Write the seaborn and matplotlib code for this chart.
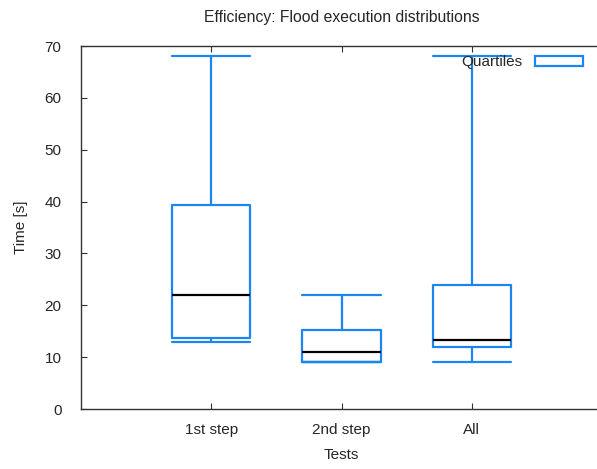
import numpy as np
import pandas as pd
import matplotlib
matplotlib.use("Agg")
import matplotlib.pyplot as plt
import seaborn as sns
from matplotlib.patches import Patch

# five-number summaries: min, Q1, median, Q3, max
tests = ["1st step", "2nd step", "All"]
step1_times = [13.0, 13.6, 22.0, 39.3, 68.0]
step2_times = [9.0, 9.0, 11.0, 15.2, 22.0]
all_times = [9.0, 11.9, 13.4, 23.9, 68.0]

BLUE = "#1c86f0"
TEXT = "#262626"

df = pd.DataFrame({
    "Tests": np.repeat(tests, 5),
    "Time": step1_times + step2_times + all_times,
})

sns.set_theme(style="white")
plt.rcParams["font.family"] = ["Liberation Sans", "DejaVu Sans"]

fig = plt.figure(figsize=(5.97, 4.69), dpi=100)
ax = fig.add_axes([81 / 597, 60 / 469, 521 / 597, 363 / 469])

sns.boxplot(data=df, x="Tests", y="Time", order=tests, whis=np.inf,
            width=0.6, fill=False, color=BLUE, linewidth=1.6,
            medianprops=dict(color="black", linewidth=1.6), ax=ax)

# gnuplot style: caps as wide as the boxes
for line in ax.lines:
    xd = np.asarray(line.get_xdata(), dtype=float)
    yd = np.asarray(line.get_ydata(), dtype=float)
    if len(xd) == 2 and yd[0] == yd[1] and line.get_color() != "black":
        c = xd.mean()
        line.set_xdata([c - 0.3, c + 0.3])

ax.set_xlim(-1, 3)
ax.set_ylim(0, 70)
ax.set_yticks(range(0, 71, 10))
ax.tick_params(direction="in", top=True, right=False, length=4, width=0.8,
               colors="#333333", labelsize=11, labelcolor=TEXT,
               left=True, bottom=True)
ax.tick_params(axis="y", pad=14)
ax.tick_params(axis="x", pad=10)
for s in ax.spines.values():
    s.set_color("#333333")
    s.set_linewidth(1.0)

ax.set_xlabel("Tests", fontsize=11, color=TEXT, labelpad=8)
ax.set_ylabel("Time [s]", fontsize=11, color=TEXT, labelpad=12)
ax.set_title("Efficiency: Flood execution distributions", fontsize=11.3,
             color=TEXT, pad=17)

handle = Patch(facecolor="white", edgecolor=BLUE, linewidth=1.6)
ax.legend([handle], ["Quartiles"], loc="upper right", frameon=False,
          markerfirst=False, handlelength=3.2, handleheight=0.6,
          fontsize=11, bbox_to_anchor=(0.982, 1.0), borderaxespad=0.2,
          labelcolor=TEXT)

fig.savefig("out.png", dpi=100)
